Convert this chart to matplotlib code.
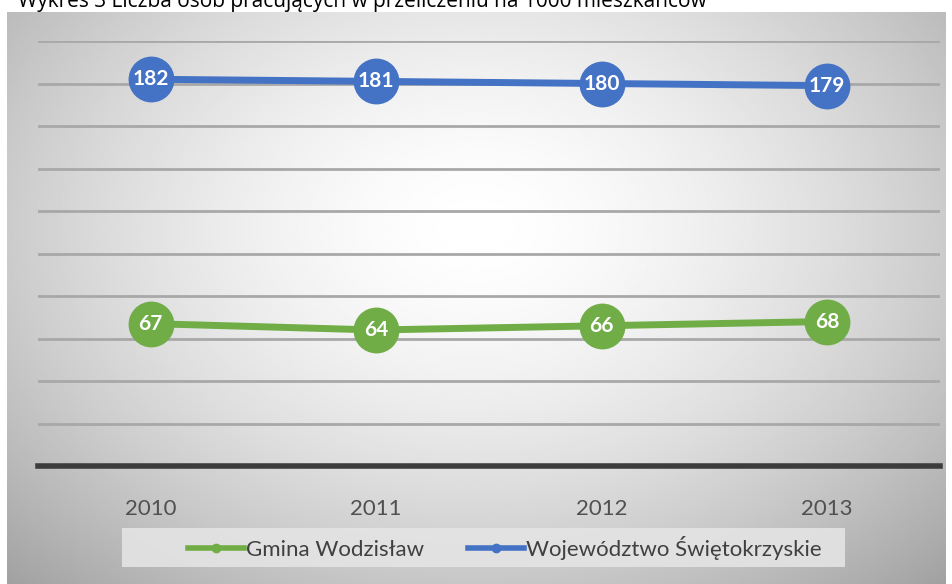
import matplotlib.pyplot as plt
import numpy as np
from matplotlib.lines import Line2D
from matplotlib.patches import Rectangle

# data
years = ["2010", "2011", "2012", "2013"]
gmina = [67, 64, 66, 68]
wojewodztwo = [182, 181, 180, 179]
series_names = ["Gmina Wodzisław", "Województwo Świętokrzyskie"]
title = "Wykres 3 Liczba osób pracujących w przeliczeniu na 1000 mieszkańców"

green = "#70AD47"
blue = "#4472C4"
plt.rcParams['font.family'] = ['Lato', 'DejaVu Sans']

fig = plt.figure(figsize=(9.53, 5.84), dpi=100)
W, H = 953, 584

# chart area with radial gradient background
bg = fig.add_axes([7 / W, 0, (946 - 7) / W, 1 - 12 / H])
yy, xx = np.mgrid[-1:1:300j, -1:1:500j]
r = np.sqrt((xx * 0.95) ** 2 + ((yy + 0.25) * 0.8) ** 2)
shade = np.clip(1.0 - 0.22 * r ** 1.6, 0, 1)
bg.imshow(shade, cmap="gray", vmin=0, vmax=1, aspect="auto",
          extent=[0, 1, 0, 1], interpolation="bilinear")
bg.set_xlim(0, 1)
bg.set_ylim(0, 1)
bg.axis("off")

# title, cut by the top edge like in the source page
fig.text(18 / W, 1 + 9 / H, title, fontsize=15, color="black",
         ha="left", va="top", family=['Open Sans', 'DejaVu Sans'])

ax = fig.add_axes([38 / W, 1 - 466 / H, (940 - 38) / W, (466 - 41) / H])
ax.set_facecolor("none")
x = np.arange(len(years))
ax.set_xlim(-0.5, len(years) - 0.5)
ax.set_ylim(0, 200)
ax.set_yticks(np.arange(20, 201, 20))
ax.yaxis.grid(True, color="#a8a8a8", linewidth=2)
ax.set_axisbelow(True)
ax.tick_params(axis="y", left=False, labelleft=False)
ax.tick_params(axis="x", bottom=False, labelsize=16, colors="#505050", pad=20)
ax.set_xticks(x)
ax.set_xticklabels(years)
for s in ["top", "right", "left"]:
    ax.spines[s].set_visible(False)
ax.spines["bottom"].set_color("#3c3c3c")
ax.spines["bottom"].set_linewidth(4)

for vals, col in [(gmina, green), (wojewodztwo, blue)]:
    ax.plot(x, vals, color=col, linewidth=5, marker="o", markersize=32,
            markerfacecolor=col, markeredgecolor=col, zorder=3)
    for xi, v in zip(x, vals):
        ax.text(xi, v, str(v), color="white", fontsize=15, fontweight="bold",
                ha="center", va="center", zorder=4)

# legend box
fig.patches.append(Rectangle((122 / W, 1 - 567 / H), (845 - 122) / W, 39 / H,
                             transform=fig.transFigure, facecolor="#e4e4e4",
                             edgecolor="none", alpha=0.9, zorder=1))
handles = [Line2D([], [], color=green, linewidth=4, marker="o", markersize=6),
           Line2D([], [], color=blue, linewidth=4, marker="o", markersize=6)]
leg = fig.legend(handles, series_names, loc="center", ncol=2,
                 bbox_to_anchor=(505 / W, 1 - 548 / H), frameon=False,
                 fontsize=16, handlelength=2.5, handletextpad=0.1,
                 columnspacing=2.0)
for t in leg.get_texts():
    t.set_color("#404040")

fig.savefig("out.png", dpi=100)
